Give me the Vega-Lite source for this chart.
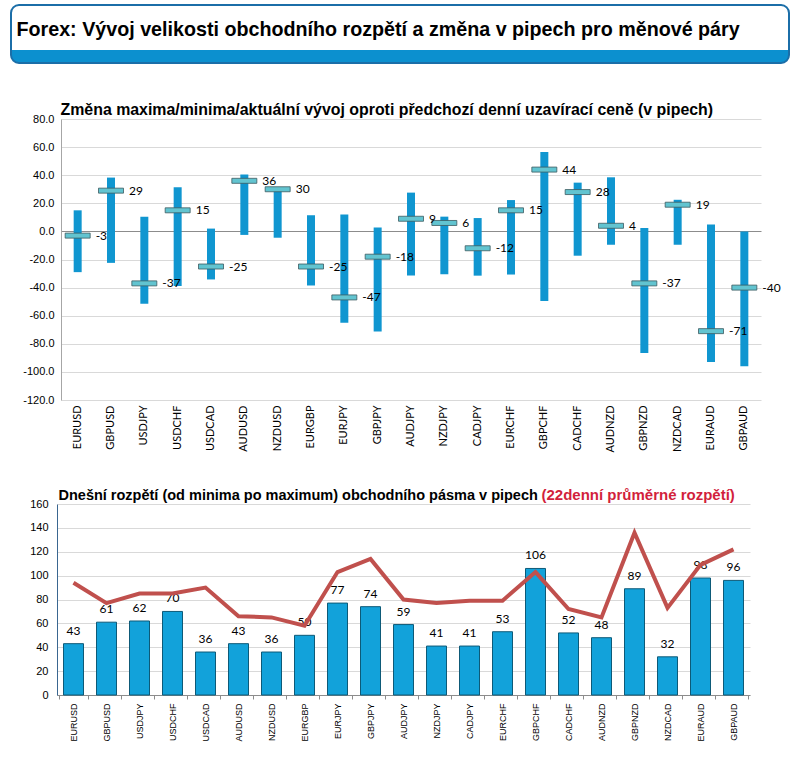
{
  "$schema": "https://vega.github.io/schema/vega-lite/v6.json",
  "background": "white",
  "padding": {"left": 7, "top": 4, "right": 5, "bottom": 0},
  "config": {
    "view": {"stroke": null},
    "font": "Liberation Sans",
    "axis": {"labelColor": "black", "titleColor": "black", "labelOverlap": false},
    "locale": {"number": {"decimal": ".", "thousands": ",", "grouping": [3], "currency": ["$", ""], "minus": "-"}}
  },
  "data": {
    "values": [
      {"pair": "EURUSD", "min": -29, "max": 15, "cur": -3, "range": 43, "avg22": 94},
      {"pair": "GBPUSD", "min": -22.4, "max": 38.3, "cur": 29, "range": 61, "avg22": 77},
      {"pair": "USDJPY", "min": -51.5, "max": 10.5, "cur": -37, "range": 62, "avg22": 85},
      {"pair": "USDCHF", "min": -38.8, "max": 31.5, "cur": 15, "range": 70, "avg22": 85},
      {"pair": "USDCAD", "min": -34.2, "max": 2, "cur": -25, "range": 36, "avg22": 90},
      {"pair": "AUDUSD", "min": -2.5, "max": 40.5, "cur": 36, "range": 43, "avg22": 66},
      {"pair": "NZDUSD", "min": -4.5, "max": 31.5, "cur": 30, "range": 36, "avg22": 65},
      {"pair": "EURGBP", "min": -38.5, "max": 11.5, "cur": -25, "range": 50, "avg22": 58},
      {"pair": "EURJPY", "min": -65, "max": 12, "cur": -47, "range": 77, "avg22": 103},
      {"pair": "GBPJPY", "min": -71.3, "max": 2.7, "cur": -18, "range": 74, "avg22": 114},
      {"pair": "AUDJPY", "min": -31.4, "max": 27.6, "cur": 9, "range": 59, "avg22": 80},
      {"pair": "NZDJPY", "min": -30.5, "max": 10.5, "cur": 6, "range": 41, "avg22": 77},
      {"pair": "CADJPY", "min": -31.5, "max": 9.5, "cur": -12, "range": 41, "avg22": 79},
      {"pair": "EURCHF", "min": -30.7, "max": 22.3, "cur": 15, "range": 53, "avg22": 79},
      {"pair": "GBPCHF", "min": -49.5, "max": 56.5, "cur": 44, "range": 106, "avg22": 103},
      {"pair": "CADCHF", "min": -17.3, "max": 34.7, "cur": 28, "range": 52, "avg22": 72},
      {"pair": "AUDNZD", "min": -9.5, "max": 38.5, "cur": 4, "range": 48, "avg22": 65},
      {"pair": "GBPNZD", "min": -86.5, "max": 2.5, "cur": -37, "range": 89, "avg22": 136},
      {"pair": "NZDCAD", "min": -9.5, "max": 22.5, "cur": 19, "range": 32, "avg22": 73},
      {"pair": "EURAUD", "min": -93, "max": 5, "cur": -71, "range": 98, "avg22": 109},
      {"pair": "GBPAUD", "min": -96, "max": 0, "cur": -40, "range": 96, "avg22": 122}
    ]
  },
  "spacing": 37,
  "vconcat": [
    {
      "width": 778,
      "height": 58,
      "data": {"values": [{"k": "header"}]},
      "mark": {"type": "text"},
      "encoding": {
        "text": {"value": ""},
        "x": {
          "field": "k",
          "type": "nominal",
          "axis": {
            "orient": "top",
            "labels": false,
            "ticks": false,
            "domain": false,
            "grid": false,
            "title": "Forex: Vývoj velikosti obchodního rozpětí a změna v pipech pro měnové páry",
            "titleFontSize": 19.7,
            "titleFontWeight": "bold",
            "titleColor": "black",
            "titleAnchor": "start",
            "titleAlign": "left",
            "titleBaseline": "alphabetic",
            "titleX": 5,
            "titleY": 30
          }
        }
      },
      "view": {
        "fill": {
          "gradient": "linear",
          "x1": 0, "y1": 0, "x2": 0, "y2": 1,
          "stops": [
            {"offset": 0, "color": "#ffffff"},
            {"offset": 0.77, "color": "#ffffff"},
            {"offset": 0.775, "color": "#0c90cf"},
            {"offset": 1, "color": "#0c90cf"}
          ]
        },
        "stroke": "#1b6ea8",
        "strokeWidth": 2,
        "cornerRadius": 8
      }
    },
    {
      "spacing": 34,
      "vconcat": [
        {
          "width": 750,
          "height": 281,
          "layer": [
            {
              "mark": {"type": "bar", "width": 8, "color": "#1096d0"},
              "encoding": {
                "x": {
                  "field": "pair",
                  "type": "nominal",
                  "sort": null,
                  "scale": {"range": [50, 750]},
                  "axis": {
                    "orient": "bottom",
                    "title": null,
                    "labelAngle": -90,
                    "labelFontSize": 11,
                    "labelFont": "Lato",
                    "labelPadding": 5,
                    "ticks": false,
                    "domain": false,
                    "grid": false
                  }
                },
                "y": {
                  "field": "min",
                  "type": "quantitative",
                  "scale": {"domain": [-120, 80], "nice": false},
                  "axis": {
                    "title": null,
                    "offset": -50,
                    "values": [-120, -100, -80, -60, -40, -20, 0, 20, 40, 60, 80],
                    "format": ".1f",
                    "labelFontSize": 11,
                    "labelPadding": 7,
                    "ticks": false,
                    "domain": true,
                    "domainColor": "#a6a6a6",
                    "grid": true,
                    "gridColor": {"condition": {"test": "datum.value === 0", "value": "#8c8c8c"}, "value": "#d9d9d9"}
                  }
                },
                "y2": {"field": "max"}
              }
            },
            {
              "mark": {"type": "tick", "orient": "horizontal", "size": 25, "thickness": 5, "color": "#62c4d0", "stroke": "#3c5a60", "strokeWidth": 0.8, "opacity": 1},
              "encoding": {
                "x": {
                  "field": "pair",
                  "type": "nominal",
                  "sort": null,
                  "axis": {
                    "orient": "top",
                    "labels": false,
                    "ticks": false,
                    "domain": false,
                    "grid": false,
                    "title": "Změna maxima/minima/aktuální vývoj oproti předchozí denní uzavírací ceně (v pipech)",
                    "titleFontSize": 15.9,
                    "titleFontWeight": "bold",
                    "titleColor": "black",
                    "titleAnchor": "start",
                    "titleAlign": "left",
                    "titleBaseline": "alphabetic",
                    "titleX": 49,
                    "titleY": -5
                  }
                },
                "y": {
                  "field": "cur",
                  "type": "quantitative",
                  "axis": {
                    "title": null,
                    "offset": -50,
                    "values": [-120, -100, -80, -60, -40, -20, 0, 20, 40, 60, 80],
                    "format": ".1f",
                    "labelFontSize": 11,
                    "labelPadding": 7,
                    "ticks": false,
                    "domain": true,
                    "domainColor": "#a6a6a6",
                    "grid": true,
                    "gridColor": {"condition": {"test": "datum.value === 0", "value": "#8c8c8c"}, "value": "#d9d9d9"}
                  }
                }
              }
            },
            {
              "mark": {"type": "text", "align": "left", "baseline": "middle", "dx": 18, "fontSize": 12, "font": "Lato", "color": "black"},
              "encoding": {
                "x": {"field": "pair", "type": "nominal", "sort": null, "axis": null},
                "y": {
                  "field": "cur",
                  "type": "quantitative",
                  "axis": {
                    "title": null,
                    "offset": -50,
                    "values": [-120, -100, -80, -60, -40, -20, 0, 20, 40, 60, 80],
                    "format": ".1f",
                    "labelFontSize": 11,
                    "labelPadding": 7,
                    "ticks": false,
                    "domain": true,
                    "domainColor": "#a6a6a6",
                    "grid": true,
                    "gridColor": {"condition": {"test": "datum.value === 0", "value": "#8c8c8c"}, "value": "#d9d9d9"}
                  }
                },
                "text": {"field": "cur", "type": "nominal"}
              }
            }
          ],
          "resolve": {"axis": {"x": "independent"}}
        },
        {
          "width": 741,
          "height": 191,
          "layer": [
            {
              "mark": {"type": "bar", "width": 20, "color": "#12a2da", "stroke": "#0d5a78", "strokeWidth": 1},
              "encoding": {
                "x": {
                  "field": "pair",
                  "type": "nominal",
                  "sort": null,
                  "scale": {"range": [46, 739]},
                  "axis": {
                    "orient": "bottom",
                    "title": null,
                    "labelAngle": -90,
                    "labelFontSize": 9,
                    "labelPadding": 4,
                    "ticks": true,
                    "tickBand": "extent",
                    "tickSize": 4,
                    "tickColor": "#8c8c8c",
                    "domainColor": "#8c8c8c",
                    "grid": false
                  }
                },
                "y": {
                  "field": "range",
                  "type": "quantitative",
                  "scale": {"domain": [0, 160], "nice": false},
                  "axis": {
                    "title": null,
                    "offset": -46,
                    "values": [0, 20, 40, 60, 80, 100, 120, 140, 160],
                    "labelFontSize": 11,
                    "labelPadding": 9,
                    "ticks": false,
                    "domainColor": "#3a6690",
                    "grid": true,
                    "gridColor": "#d9d9d9"
                  }
                }
              }
            },
            {
              "mark": {"type": "text", "dy": -13, "fontSize": 12, "font": "Lato", "color": "black"},
              "encoding": {
                "x": {
                  "field": "pair",
                  "type": "nominal",
                  "sort": null,
                  "axis": {
                    "orient": "top",
                    "labels": false,
                    "ticks": false,
                    "domain": false,
                    "grid": false,
                    "title": "Dnešní rozpětí (od minima po maximum) obchodního pásma v pipech",
                    "titleFontSize": 14.5,
                    "titleFontWeight": "bold",
                    "titleColor": "black",
                    "titleAnchor": "start",
                    "titleAlign": "left",
                    "titleBaseline": "alphabetic",
                    "titleX": 47,
                    "titleY": -5
                  }
                },
                "y": {
                  "field": "range",
                  "type": "quantitative",
                  "axis": {
                    "title": null,
                    "offset": -46,
                    "values": [0, 20, 40, 60, 80, 100, 120, 140, 160],
                    "labelFontSize": 11,
                    "labelPadding": 9,
                    "ticks": false,
                    "domainColor": "#3a6690",
                    "grid": true,
                    "gridColor": "#d9d9d9"
                  }
                },
                "text": {"field": "range", "type": "quantitative"}
              }
            },
            {
              "mark": {"type": "line", "color": "#c0504d", "strokeWidth": 4},
              "encoding": {
                "x": {
                  "field": "pair",
                  "type": "nominal",
                  "sort": null,
                  "axis": {
                    "orient": "top",
                    "labels": false,
                    "ticks": false,
                    "domain": false,
                    "grid": false,
                    "title": "(22denní průměrné rozpětí)",
                    "titleFontSize": 15,
                    "titleFontWeight": "bold",
                    "titleColor": "#d21f3c",
                    "titleAnchor": "start",
                    "titleAlign": "left",
                    "titleBaseline": "alphabetic",
                    "titleX": 530,
                    "titleY": -5
                  }
                },
                "y": {
                  "field": "avg22",
                  "type": "quantitative",
                  "axis": {
                    "title": null,
                    "offset": -46,
                    "values": [0, 20, 40, 60, 80, 100, 120, 140, 160],
                    "labelFontSize": 11,
                    "labelPadding": 9,
                    "ticks": false,
                    "domainColor": "#3a6690",
                    "grid": true,
                    "gridColor": "#d9d9d9"
                  }
                }
              }
            }
          ],
          "resolve": {"axis": {"x": "independent"}}
        }
      ]
    }
  ]
}
